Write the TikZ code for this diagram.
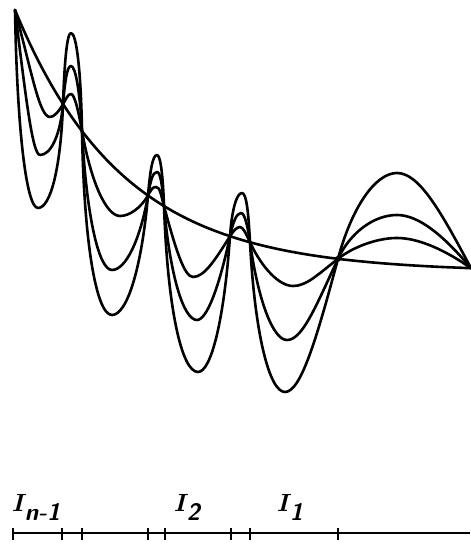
\documentclass[tikz,border=0pt]{standalone}
\usepackage{amsmath}
\begin{document}
\begin{tikzpicture}[x=1pt,y=1pt,
  curve/.style={line width=2.6pt,line join=round,line cap=round},
  axisline/.style={line width=1.7pt},
  tick/.style={line width=1.7pt},
  lab/.style={inner sep=0pt,font=\fontsize{34}{34}\selectfont\boldmath}]
\useasboundingbox (0,0) rectangle (471,546);
% nodes on the base curve
\coordinate (N0) at (15,536);
\coordinate (N1) at (63,441.8);
\coordinate (N2) at (82,414.9);
\coordinate (N3) at (148,350.5);
\coordinate (N4) at (164,339.9);
\coordinate (N5) at (230,309.8);
\coordinate (N6) at (250,303.7);
\coordinate (N7) at (338,287.2);
\coordinate (N8) at (471,277.8);
% extrema, inner curve
\coordinate (A1) at (50,429);  \coordinate (A2) at (71,452);
\coordinate (A3) at (120,330); \coordinate (A4) at (156,359);
\coordinate (A5) at (193,269); \coordinate (A6) at (240,319);
\coordinate (A7) at (293,260); \coordinate (A8) at (397,308);
% middle curve
\coordinate (B1) at (40,391);  \coordinate (B2) at (71,480);
\coordinate (B3) at (112,276); \coordinate (B4) at (157,374);
\coordinate (B5) at (197,226); \coordinate (B6) at (241,333);
\coordinate (B7) at (287,206); \coordinate (B8) at (397,331);
% outer curve
\coordinate (C1) at (38,338);  \coordinate (C2) at (71,513);
\coordinate (C3) at (112,231); \coordinate (C4) at (157,391);
\coordinate (C5) at (198,174); \coordinate (C6) at (242,353);
\coordinate (C7) at (285,154); \coordinate (C8) at (397,373);

% base curve
\draw[curve] plot[domain=15:471,samples=120,smooth] (\x,{274+262*exp(-(\x-15)/108)});

% inner curve
\draw[curve] (N0) .. controls +(-75:66) and +(180:10.5) .. (A1)
 .. controls +(0:3.9) and +(240:9) .. (N1)
 .. controls +(60:6.9) and +(180:3) .. (A2)
 .. controls +(0:3.3) and +(100:22.5) .. (N2)
 .. controls +(-80:51.8) and +(180:13.8) .. (A3)
 .. controls +(0:9.7) and +(240:14.2) .. (N3)
 .. controls +(60:5.9) and +(180:4) .. (A4)
 .. controls +(0:4) and +(105:11.8) .. (N4)
 .. controls +(-75:44) and +(180:8.7) .. (A5)
 .. controls +(0:11.1) and +(238:29) .. (N5)
 .. controls +(58:6.4) and +(180:3) .. (A6)
 .. controls +(0:3) and +(115:9.9) .. (N6)
 .. controls +(-65:29) and +(180:13.5) .. (A7)
 .. controls +(0:13.5) and +(218:26.3) .. (N7)
 .. controls +(38:20.5) and +(180:19) .. (A8)
 .. controls +(0:22) and +(145:31) .. (N8);

% middle curve
\draw[curve] (N0) .. controls +(-83:87.6) and +(180:7.5) .. (B1)
 .. controls +(0:11.1) and +(265:30.7) .. (N1)
 .. controls +(85:22.9) and +(180:4) .. (B2)
 .. controls +(0:4.6) and +(93:39) .. (N2)
 .. controls +(-87:83.5) and +(180:13.6) .. (B3)
 .. controls +(0:13.7) and +(260:45.4) .. (N3)
 .. controls +(80:14.3) and +(180:4.5) .. (B4)
 .. controls +(0:3.5) and +(95:20.5) .. (N4)
 .. controls +(-85:68.7) and +(180:13.8) .. (B5)
 .. controls +(0:9.9) and +(258:51.5) .. (N5)
 .. controls +(78:14.1) and +(180:4.5) .. (B6)
 .. controls +(0:3.5) and +(98:17.6) .. (N6)
 .. controls +(-82:59.4) and +(180:13.9) .. (B7)
 .. controls +(0:15.3) and +(245:53.6) .. (N7)
 .. controls +(65:29) and +(180:23) .. (B8)
 .. controls +(0:22.2) and +(130:41.5) .. (N8);

% outer curve
\draw[curve] (N0) .. controls +(-89:119) and +(180:11.7) .. (C1)
 .. controls +(0:12.8) and +(268:62.4) .. (N1)
 .. controls +(88:42.6) and +(180:4) .. (C2)
 .. controls +(0:5.6) and +(91:58.8) .. (N2)
 .. controls +(-89:110) and +(180:16) .. (C3)
 .. controls +(0:15.3) and +(265:72) .. (N3)
 .. controls +(85:24.4) and +(180:4.5) .. (C4)
 .. controls +(0:3.5) and +(92:30.6) .. (N4)
 .. controls +(-88:99.7) and +(180:16.8) .. (C5)
 .. controls +(0:13.5) and +(266:81.8) .. (N5)
 .. controls +(86:25.9) and +(180:5.5) .. (C6)
 .. controls +(0:4.5) and +(93:29.4) .. (N6)
 .. controls +(-87:90) and +(180:16) .. (C7)
 .. controls +(0:15.9) and +(255:82.6) .. (N7)
 .. controls +(75:53.4) and +(180:21.6) .. (C8)
 .. controls +(0:22.2) and +(118:64.5) .. (N8);

\fill (N7) circle (3);

% axis with ticks
\coordinate (X0) at (13,13);
\coordinate (X1) at (470,13);
\draw[axisline] (X0) -- (X1);
\foreach \t in {13,62,82,148,165,231,250,338}
  \draw[tick] (\t,18) -- (\t,6);

% labels
\node[lab,anchor=base west] (Lnm1) at (12,34) {$I_{\textsf{\textbf{\textit{n-1}}}}$};
\node[lab,anchor=base west] (L2) at (174,34) {$I_{\textsf{\textbf{\textit{2}}}}$};
\node[lab,anchor=base west] (L1) at (277,34) {$I_{\textsf{\textbf{\textit{1}}}}$};
\end{tikzpicture}
\end{document}
